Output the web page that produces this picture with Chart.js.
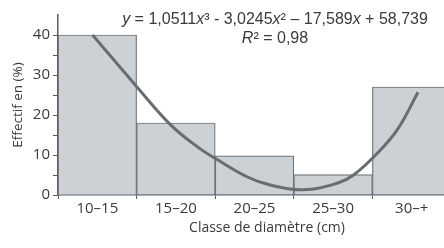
<!DOCTYPE html>
<html>
<head>
<meta charset="utf-8">
<script src="https://cdn.jsdelivr.net/npm/chart.js@4"></script>
<style>
  html, body { margin: 0; padding: 0; background: #fff; overflow: hidden; }
  #wrap { width: 460px; height: 248px; }
</style>
</head>
<body>
<div id="wrap"><canvas id="chart" width="460" height="248"></canvas></div>
<script>
const classes = ['10–15', '15–20', '20–25', '25–30', '30–+'];
const effectif = [40, 18, 9.8, 5.1, 27];

// fitted curve (x = class index)
const curveX = [0.94, 1.51, 1.93, 2.27, 2.53, 2.91, 3.2, 3.62, 4.06, 4.26, 4.57, 4.82, 5.08];
const curveY = [40, 26.9, 17.6, 12.1, 8.8, 4.5, 2.5, 1.3, 3.0, 5.0, 10.6, 16.4, 25.7];

const yTicks = [0, 10, 20, 30, 40];
const equation = [['y', true], [' = 1,0511', false], ['x', true], ['³ - 3,0245', false], ['x', true], ['² – 17,589', false], ['x', true], [' + 58,739', false]];
const rSquared = [['R', true], ['² = 0,98', false]];
const xTitle = 'Classe de diamètre (cm)';

const textColor = '#3a3a3a';
const axisColor = '#5a5d60';

function drawRich(ctx, parts, cx, cy, size) {
  const fontOf = it => (it ? 'italic ' : '') + size + 'px "Liberation Sans", Arial, sans-serif';
  let total = 0;
  parts.forEach(p => { ctx.font = fontOf(p[1]); total += ctx.measureText(p[0]).width; });
  let x = cx - total / 2;
  parts.forEach(p => {
    ctx.font = fontOf(p[1]);
    ctx.fillText(p[0], x, cy);
    x += ctx.measureText(p[0]).width;
  });
}

const annotations = {
  id: 'annotations',
  afterDraw(chart) {
    const ctx = chart.ctx;
    ctx.save();
    ctx.fillStyle = textColor;
    ctx.textBaseline = 'middle';
    ctx.textAlign = 'left';
    drawRich(ctx, equation, 275, 20, 16);
    drawRich(ctx, rSquared, 275, 39, 16);
    ctx.font = '14px "Open Sans", sans-serif';
    ctx.textAlign = 'center';
    ctx.fillText(xTitle, 267, 228);
    ctx.restore();
  }
};

new Chart(document.getElementById('chart').getContext('2d'), {
  data: {
    labels: classes,
    datasets: [{
      type: 'line',
      data: curveX.map((x, i) => ({ x: x, y: curveY[i] })),
      xAxisID: 'xc',
      borderColor: '#6a6d70',
      borderWidth: 3,
      pointRadius: 0,
      tension: 0.4,
      fill: false
    }, {
      type: 'bar',
      data: effectif,
      xAxisID: 'x',
      grouped: false,
      backgroundColor: '#cbd1d5',
      borderColor: '#6f7376',
      borderWidth: 1.2,
      barPercentage: 1,
      categoryPercentage: 1
    }]
  },
  options: {
    responsive: false,
    animation: false,
    layout: { padding: { top: 15, right: 9, left: 0, bottom: 0 } },
    plugins: { legend: { display: false }, tooltip: { enabled: false } },
    scales: {
      x: {
        type: 'category',
        offset: true,
        grid: { offset: true, drawOnChartArea: false, tickLength: 4, color: axisColor },
        border: { color: axisColor, width: 1.5 },
        ticks: { color: textColor, font: { family: 'Open Sans', size: 15 }, padding: 1, maxRotation: 0 },
        afterFit(scale) { scale.height = 53; }
      },
      xc: {
        type: 'linear',
        display: false,
        min: 0.5,
        max: 5.5
      },
      y: {
        min: 0,
        max: 45,
        afterBuildTicks(scale) {
          scale.ticks = [];
          for (let v = 0; v <= 40; v += 5) scale.ticks.push({ value: v });
        },
        grid: { drawOnChartArea: false, tickLength: 5, color: axisColor },
        border: { color: axisColor, width: 1.5 },
        ticks: {
          color: textColor,
          font: { family: 'Open Sans', size: 15 },
          padding: 3,
          callback: v => (yTicks.includes(v) ? String(v) : '')
        },
        title: {
          display: true,
          text: 'Effectif en (%)',
          color: textColor,
          font: { family: 'Open Sans', size: 13.5 },
          padding: { top: 10, bottom: 0 }
        },
        afterFit(scale) { scale.width = 58; }
      }
    }
  },
  plugins: [annotations]
});
</script>
</body>
</html>
